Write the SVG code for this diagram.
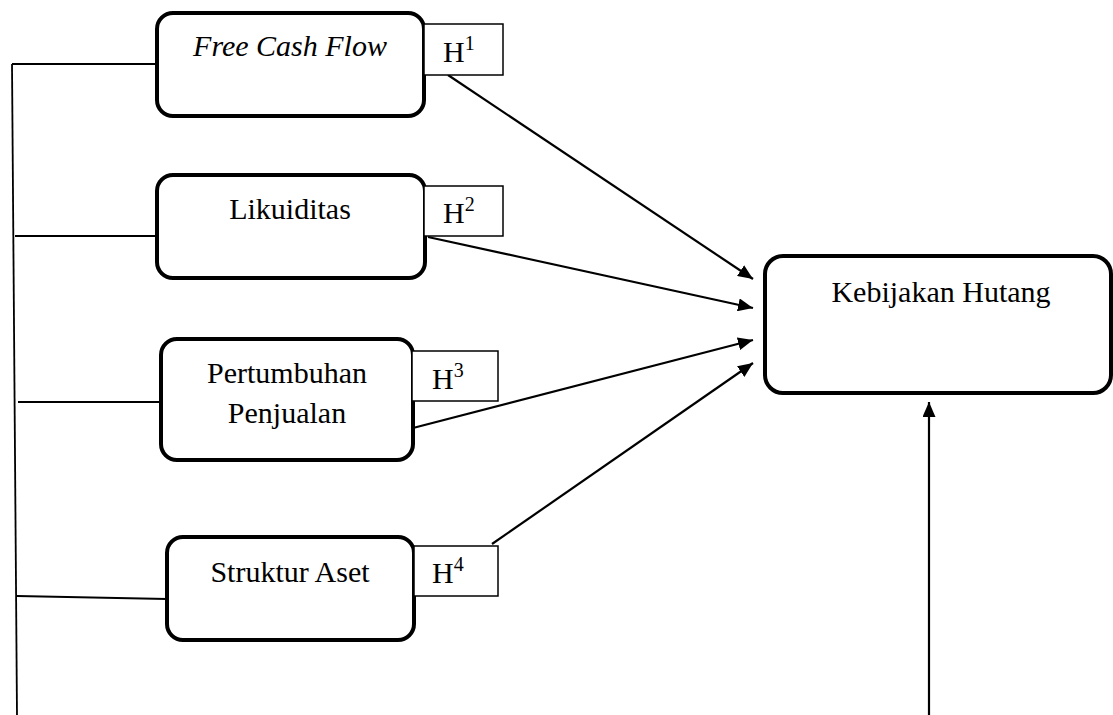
<svg xmlns="http://www.w3.org/2000/svg" width="1113" height="715" viewBox="0 0 1113 715">
<style>
.node{fill:#fff;stroke:#000;stroke-width:4}
.hbox{fill:#fff;stroke:#000;stroke-width:1.5}
.t{font-family:"Liberation Serif","Times New Roman",serif;font-size:30px;fill:#000;text-anchor:middle}
.h{font-family:"Liberation Serif","Times New Roman",serif;font-size:30px;fill:#000}
.sup{font-size:20px}
.ln{stroke:#000;stroke-width:1.8;fill:none}
.ar{stroke:#000;stroke-width:2.2;fill:none;marker-end:url(#arr)}
</style>
<defs>
<marker id="arr" markerWidth="15" markerHeight="13" refX="15" refY="6.5" orient="auto" markerUnits="userSpaceOnUse">
<path d="M0,0 L15,6.5 L0,13 z" fill="#000"/>
</marker>
</defs>
<rect width="1113" height="715" fill="#fff"/>
<g id="connectors">
<line class="ln" x1="12" y1="64" x2="17" y2="715"/>
<line class="ln" x1="12" y1="64" x2="157" y2="64"/>
<line class="ln" x1="15" y1="236" x2="157" y2="236"/>
<line class="ln" x1="18" y1="402" x2="160" y2="402"/>
<line class="ln" x1="17" y1="596" x2="167" y2="599"/>
<line class="ar" x1="448" y1="75" x2="753" y2="279"/>
<line class="ar" x1="428" y1="237" x2="753" y2="308"/>
<line class="ar" x1="413" y1="428" x2="753" y2="340"/>
<line class="ar" x1="492" y1="544" x2="753" y2="363"/>
<line class="ar" x1="929" y1="715" x2="929" y2="402"/>
</g>
<g id="free-cash-flow">
<rect class="node" x="157" y="13" width="267" height="103" rx="16"/>
<text class="t" x="290" y="56" font-style="italic">Free Cash Flow</text>
</g>
<g id="h1">
<rect class="hbox" x="424" y="24" width="79" height="51"/>
<text class="h" x="443" y="62">H<tspan class="sup" dy="-12">1</tspan></text>
</g>
<g id="likuiditas">
<rect class="node" x="157" y="175" width="268" height="103" rx="16"/>
<text class="t" x="290" y="219">Likuiditas</text>
</g>
<g id="h2">
<rect class="hbox" x="424" y="186" width="79" height="50"/>
<text class="h" x="443" y="223">H<tspan class="sup" dy="-12">2</tspan></text>
</g>
<g id="pertumbuhan-penjualan">
<rect class="node" x="161" y="339" width="252" height="121" rx="16"/>
<text class="t" x="287" y="383">Pertumbuhan</text>
<text class="t" x="287" y="423">Penjualan</text>
</g>
<g id="h3">
<rect class="hbox" x="412" y="351" width="86" height="50"/>
<text class="h" x="432" y="389">H<tspan class="sup" dy="-12">3</tspan></text>
</g>
<g id="struktur-aset">
<rect class="node" x="167" y="537" width="247" height="103" rx="16"/>
<text class="t" x="290" y="582">Struktur Aset</text>
</g>
<g id="h4">
<rect class="hbox" x="414" y="546" width="84" height="50"/>
<text class="h" x="432" y="583">H<tspan class="sup" dy="-12">4</tspan></text>
</g>
<g id="kebijakan-hutang">
<rect class="node" x="765" y="256" width="346" height="137" rx="18"/>
<text class="t" x="941" y="302">Kebijakan Hutang</text>
</g>
</svg>
